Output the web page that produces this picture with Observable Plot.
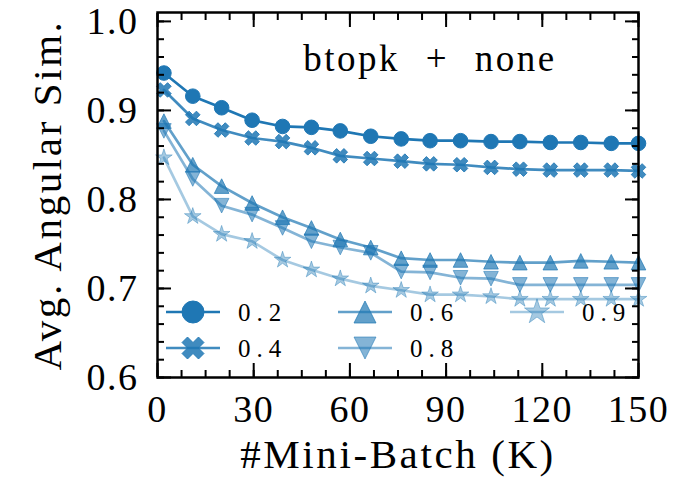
<!DOCTYPE html>
<html><head><meta charset="utf-8">
<script src="https://cdn.jsdelivr.net/npm/d3@7"></script>
<script src="https://cdn.jsdelivr.net/npm/@observablehq/plot@0.6"></script>
<style>html,body{margin:0;padding:0;background:#fff;}</style>
</head><body><div id="chart"></div>
<script>
// ---- data ----
const steps = [2, 11, 20, 29.5, 39, 48, 57, 66.5, 76, 85, 94.5, 104, 113, 122.5, 132, 141.5, 150];
const seriesNames = ["0.2", "0.4", "0.6", "0.8", "0.9"];
const sim02 = [0.942, 0.916, 0.903, 0.889, 0.882, 0.881, 0.877, 0.871, 0.868, 0.866, 0.866, 0.865, 0.865, 0.864, 0.864, 0.863, 0.863];
const sim04 = [0.923, 0.891, 0.878, 0.869, 0.865, 0.858, 0.849, 0.846, 0.843, 0.840, 0.839, 0.836, 0.834, 0.833, 0.833, 0.833, 0.832];
const sim06 = [0.888, 0.839, 0.815, 0.796, 0.780, 0.768, 0.755, 0.746, 0.734, 0.732, 0.732, 0.730, 0.729, 0.729, 0.731, 0.730, 0.729];
const sim08 = [0.877, 0.823, 0.793, 0.783, 0.768, 0.753, 0.746, 0.740, 0.719, 0.718, 0.712, 0.711, 0.704, 0.704, 0.704, 0.704, 0.704];
const sim09 = [0.847, 0.781, 0.761, 0.753, 0.732, 0.721, 0.711, 0.703, 0.698, 0.693, 0.693, 0.691, 0.688, 0.688, 0.688, 0.688, 0.688];
const xTicks = [0, 30, 60, 90, 120, 150];
const xTickLabels = ["0", "30", "60", "90", "120", "150"];
const yTicks = [0.6, 0.7, 0.8, 0.9, 1.0];
const yTickLabels = ["0.6", "0.7", "0.8", "0.9", "1.0"];
const xMinor = d3.range(0, 151, 7.5);
const yMinor = d3.range(30, 51).map(d => d / 50);
const xLabel = "#Mini-Batch (K)";
const yLabel = "Avg. Angular Sim.";
const annotation = "btopk + none";

// ---- styling ----
const C0 = "#1f77b4";
const alphas = [1, 0.85, 0.7, 0.55, 0.4];
const FONT = "Liberation Serif, Times New Roman, serif";

// custom marker shapes (size = pi r^2)
const rad = size => Math.sqrt(size / Math.PI);
const symCircle = {draw(ctx, size) { const r = rad(size); ctx.moveTo(r, 0); ctx.arc(0, 0, r, 0, 2 * Math.PI); ctx.closePath(); }};
const symX = {draw(ctx, size) {
  const s = rad(size) / 2;
  const pts = [[-1,-2],[0,-1],[1,-2],[2,-1],[1,0],[2,1],[1,2],[0,1],[-1,2],[-2,1],[-1,0],[-2,-1]];
  pts.forEach(([x, y], i) => i ? ctx.lineTo(x * s, y * s) : ctx.moveTo(x * s, y * s));
  ctx.closePath();
}};
const symTriUp = {draw(ctx, size) { const s = rad(size); ctx.moveTo(0, -s); ctx.lineTo(-s, s); ctx.lineTo(s, s); ctx.closePath(); }};
const symTriDown = {draw(ctx, size) { const s = rad(size); ctx.moveTo(0, s); ctx.lineTo(-s, -s); ctx.lineTo(s, -s); ctx.closePath(); }};
const symStar = {draw(ctx, size) {
  const R = rad(size) * 1.2, r = R * 0.381966;
  for (let i = 0; i < 10; i++) {
    const a = -Math.PI / 2 + i * Math.PI / 5, rr = i % 2 ? r : R;
    const x = rr * Math.cos(a), y = rr * Math.sin(a);
    i ? ctx.lineTo(x, y) : ctx.moveTo(x, y);
  }
  ctx.closePath();
}};
const symbols = [symCircle, symX, symTriUp, symTriDown, symStar];
const values = [sim02, sim04, sim06, sim08, sim09];

const marks = [];
seriesNames.forEach((name, k) => {
  const rows = steps.map((s, i) => ({step: s, sim: values[k][i], series: name}));
  marks.push(Plot.line(rows, {x: "step", y: "sim", stroke: C0, strokeOpacity: alphas[k], strokeWidth: 2.7}));
  marks.push(Plot.dot(rows, {x: "step", y: "sim", symbol: symbols[k], r: 7.3, fill: C0, fillOpacity: alphas[k], stroke: C0, strokeOpacity: alphas[k], strokeWidth: 1}));
});

const tickStyle = {stroke: "black", strokeWidth: 2, label: null};
const chart = Plot.plot({
  width: 689, height: 489,
  marginLeft: 157, marginRight: 51, marginTop: 12, marginBottom: 112,
  style: {fontFamily: FONT, background: "#fff", color: "black"},
  x: {domain: [0, 150]},
  y: {domain: [0.6, 1.01]},
  marks: [
    ...marks,
    Plot.axisX({anchor: "bottom", ticks: xMinor, tickSize: -7, tickFormat: () => "", ...tickStyle}),
    Plot.axisX({anchor: "top", ticks: xMinor, tickSize: -7, tickFormat: () => "", ...tickStyle}),
    Plot.axisY({anchor: "left", ticks: yMinor, tickSize: -7, tickFormat: () => "", ...tickStyle}),
    Plot.axisY({anchor: "right", ticks: yMinor, tickSize: -7, tickFormat: () => "", ...tickStyle}),
    Plot.axisX({anchor: "bottom", ticks: xTicks, tickSize: -14, tickPadding: 32, tickFormat: d => xTickLabels[xTicks.indexOf(d)], fontSize: 38, ...tickStyle}),
    Plot.axisX({anchor: "top", ticks: xTicks, tickSize: -14, tickFormat: () => "", ...tickStyle}),
    Plot.axisY({anchor: "left", ticks: yTicks, tickSize: -14, tickPadding: 33, tickFormat: d => yTickLabels[yTicks.findIndex(t => Math.abs(t - d) < 1e-9)], fontSize: 38, ...tickStyle}),
    Plot.axisY({anchor: "right", ticks: yTicks, tickSize: -14, tickFormat: () => "", ...tickStyle}),
    Plot.frame({stroke: "black", strokeWidth: 2.5}),
    Plot.text([xLabel], {frameAnchor: "bottom", dy: 90, fontSize: 41, fill: "black", textAnchor: "middle"}),
    Plot.text([yLabel], {frameAnchor: "left", dx: -110, rotate: -90, fontSize: 41, fill: "black", textAnchor: "middle"}),
    Plot.text([annotation], {frameAnchor: "top", dx: 32, dy: 32, fontSize: 37, fill: "black", textAnchor: "middle"})
  ]
});
document.getElementById("chart").appendChild(chart);

// letter spacing tweaks to approximate Computer Modern widths
const svg = d3.select(chart);
const byText = list => svg.selectAll("text").filter(function() { return list.includes(this.textContent); });
byText([...xTickLabels, ...yTickLabels]).attr("letter-spacing", "1.5px");
byText([xLabel, yLabel]).attr("letter-spacing", "2.6px");
byText([annotation]).attr("letter-spacing", "2.5px").attr("word-spacing", "14px");

// ---- legend (inside plot, 3 columns x 2 rows) ----
const legendPos = [[193, 312], [193, 348], [365, 312], [365, 348], [537, 312]];
const leg = svg.append("g").attr("aria-label", "legend");
seriesNames.forEach((name, k) => {
  const [cx, cy] = legendPos[k];
  leg.append("line").attr("x1", cx - 27).attr("x2", cx + 27).attr("y1", cy).attr("y2", cy)
    .attr("stroke", C0).attr("stroke-opacity", alphas[k]).attr("stroke-width", 2.7);
  leg.append("path").attr("transform", `translate(${cx},${cy})`)
    .attr("d", d3.symbol(symbols[k], Math.PI * 11 * 11)())
    .attr("fill", C0).attr("fill-opacity", alphas[k])
    .attr("stroke", C0).attr("stroke-opacity", alphas[k]).attr("stroke-width", 1);
  leg.append("text").attr("x", cx + 45).attr("y", cy + 9)
    .attr("text-anchor", "start")
    .attr("font-family", FONT).attr("font-size", 25).attr("letter-spacing", "6px")
    .attr("fill", "black").text(name);
});
</script></body></html>
